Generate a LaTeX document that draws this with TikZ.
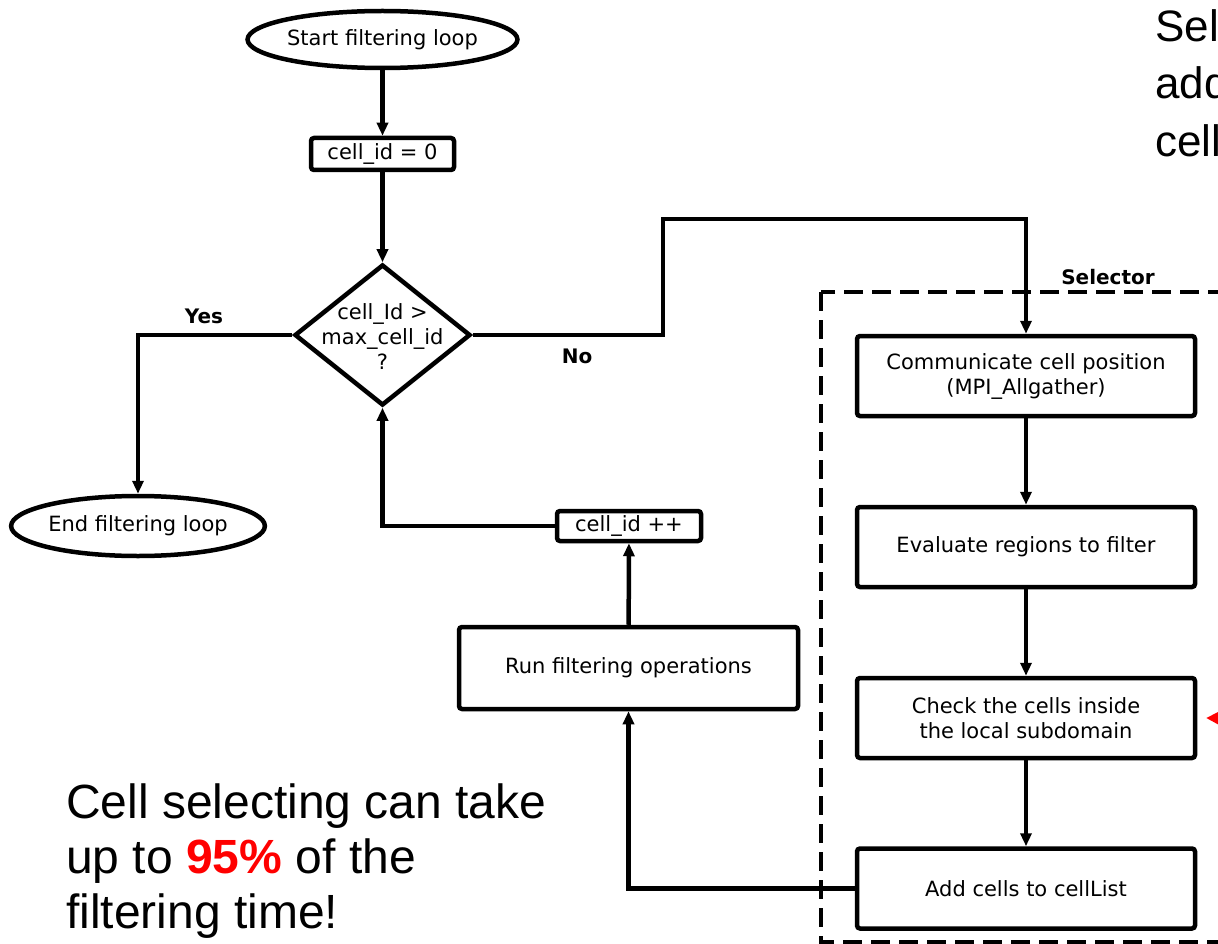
\documentclass[tikz,border=0pt]{standalone}
\usepackage{fontspec}
\setmainfont{DejaVu Sans}
\newfontfamily\arialfont{Liberation Sans}
\usetikzlibrary{shapes.geometric,arrows.meta}

\begin{document}
\begin{tikzpicture}[x=1pt,y=-1pt,
  every node/.style={font=\fontsize{21}{25}\selectfont},
  box/.style={draw, line width=4.5pt, rounded corners=3pt, inner sep=0pt, align=center},
  oval/.style={draw, ellipse, line width=4.5pt, inner sep=0pt},
  decision/.style={draw, diamond, line width=4.5pt, inner sep=0pt},
  conn/.style={line width=4.5pt, -{Triangle[length=13pt,width=11pt]}},
  lbl/.style={font=\fontsize{20}{24}\selectfont\bfseries, inner sep=0pt},
  noteline/.style={font=\arialfont\fontsize{44}{52}\selectfont, inner sep=0pt, anchor=base west},
  bigline/.style={font=\arialfont\fontsize{48}{56}\selectfont, inner sep=0pt, anchor=base west},
  groupbox/.style={line width=3.5pt, dash pattern=on 19pt off 9pt}
]
\useasboundingbox (0,0) rectangle (1218,944);
\clip (0,0) rectangle (1218,944);

% Selector group
\draw[groupbox] (821,292) rectangle (1270,942);
\node[lbl] (selector) at (1108,277) {Selector};

% main loop
\node[oval, minimum width=251pt, minimum height=57pt] (start) at (382.5,39.5) {Start filtering loop};
\node[box, minimum width=143pt, minimum height=32pt] (init) at (382.5,154) {cell\_id = 0};
\node[decision, minimum width=176pt, minimum height=141pt] (dec) at (382.5,335) {};
\node[align=center, inner sep=0pt] (dectext) at (382.5,337) {cell\_Id >\\max\_cell\_id\\?};
\node[oval, minimum width=253pt, minimum height=60pt] (endl) at (138,526) {End filtering loop};
\node[box, minimum width=144pt, minimum height=30pt] (inc) at (629,526) {cell\_id ++};
\node[box, minimum width=339pt, minimum height=82pt] (run) at (628.5,668) {Run filtering operations};

% selector steps
\node[box, minimum width=338pt, minimum height=80pt] (comm) at (1026,376) {Communicate cell position\\(MPI\_Allgather)};
\node[box, minimum width=338pt, minimum height=80pt] (eval) at (1026,547) {Evaluate regions to filter};
\node[box, minimum width=338pt, minimum height=80pt] (check) at (1026,718) {Check the cells inside\\the local subdomain};
\node[box, minimum width=338pt, minimum height=80pt] (add) at (1026,888.5) {Add cells to cellList};

% connectors
\coordinate (nobend) at (663,219);
\draw[conn] (start) -- (init);
\draw[conn] (init) -- (dec);
\draw[conn] (dec.west) -| (endl);
\node[lbl] (yes) at (204,316) {Yes};
\draw[conn] (dec.east) -| (nobend) -| (comm);
\node[lbl] (no) at (577,356) {No};
\draw[conn] (comm) -- (eval);
\draw[conn] (eval) -- (check);
\draw[conn] (check) -- (add);
\draw[conn] (add.west) -| (run);
\draw[conn] (run) -- (inc);
\draw[conn] (inc.west) -| (dec);

% pointer from the right
\coordinate (redsrc) at (1280,719);
\draw[red, line width=3pt, -{Triangle[length=15pt,width=15pt]}] (redsrc) -- ([xshift=9pt]check.east);

% notes
\node[noteline] (noteA) at (1155,42) {Sel};
\node[noteline] (noteB) at (1155,99) {add};
\node[noteline] (noteC) at (1155,157) {cell};
\node[bigline] (costA) at (66,818) {Cell selecting can take};
\node[bigline] (costB) at (66,873) {up to \textcolor{red}{\textbf{95\%}} of the};
\node[bigline] (costC) at (66,928) {filtering time!};
\end{tikzpicture}
\end{document}
